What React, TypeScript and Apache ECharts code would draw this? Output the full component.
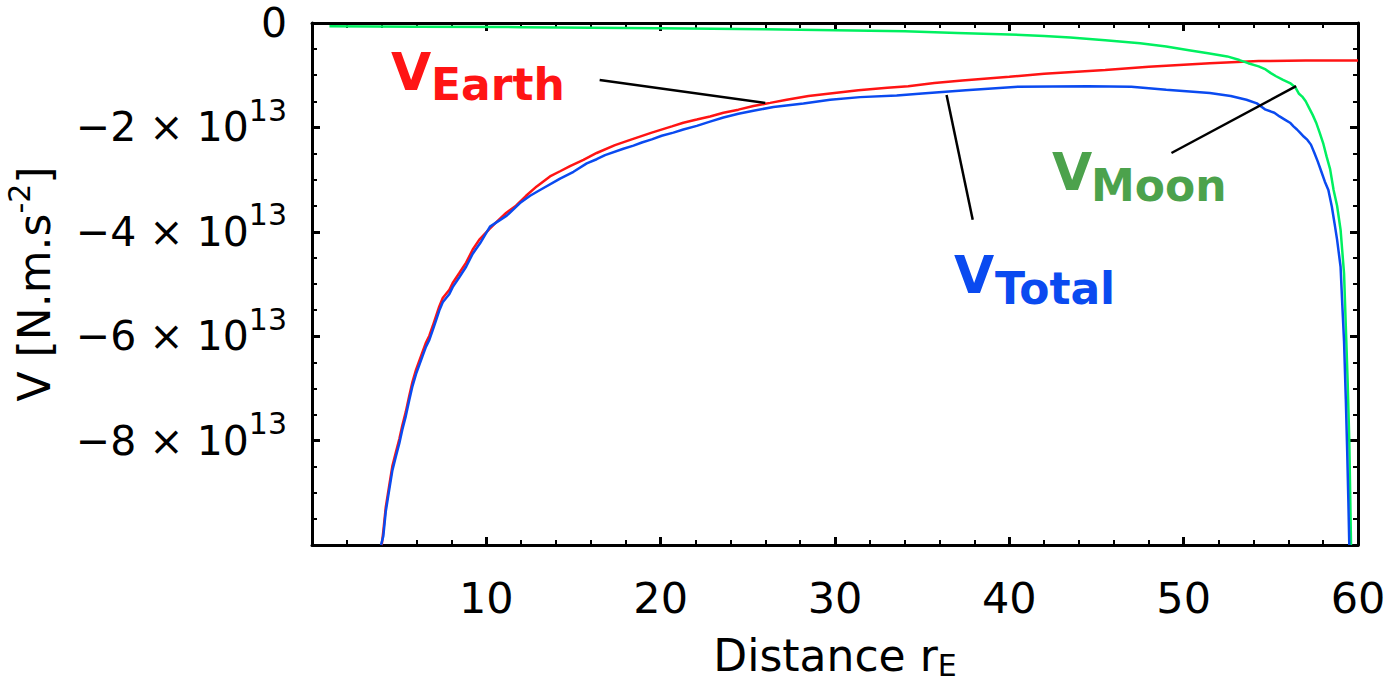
import React, { useEffect, useRef } from 'react';
import * as echarts from 'echarts';

// Values in units of 10^12 N.m.s^-2, x in Earth radii
const EARTH: [number, number][] = [
  [4.0, -100], [4.09, -97.4], [4.23, -92.8], [4.44, -88.4], [4.61, -84.9], [4.8, -82.4], [5.01, -79.7],
  [5.18, -77.1], [5.38, -74.5], [5.58, -71.4], [5.76, -68.8], [5.97, -66.4], [6.33, -63.1], [6.54, -61.2],
  [6.73, -59.9], [6.92, -58.1], [7.11, -56.2], [7.3, -54.3], [7.5, -52.7], [7.88, -51.1], [8.07, -49.8],
  [8.45, -47.9], [8.84, -45.9], [9.22, -43.4], [9.6, -41.5], [10.17, -39.5], [10.56, -38.2], [11.13, -36.4],
  [11.7, -35.0], [12.28, -33.1], [12.89, -31.3], [13.65, -29.4], [14.23, -28.4], [14.8, -27.4], [15.57, -26.2],
  [16.33, -24.9], [17.38, -23.4], [18.34, -22.3], [19.49, -21.0], [20.64, -19.8], [21.3, -19.1], [22.07, -18.5],
  [22.83, -17.9], [23.6, -17.2], [24.46, -16.6], [25.32, -15.9], [26.28, -15.3], [27.23, -14.7], [28.48, -14.0],
  [29.72, -13.5], [31.34, -12.9], [33.0, -12.4], [34.2, -12.1], [35.7, -11.5], [37.3, -11.0], [40.0, -10.3],
  [42.0, -9.7], [45.5, -9.0], [48.0, -8.4], [51.5, -7.7], [54.3, -7.3], [57.0, -7.2], [60.0, -7.2],
];

const MOON: [number, number][] = [
  [1, -0.6], [6, -0.7], [12, -0.8], [20, -1.0], [26, -1.2], [30, -1.4], [34, -1.6], [37, -1.9], [40, -2.2],
  [42, -2.5], [43.5, -2.8], [45.5, -3.3], [47.5, -3.9], [49, -4.5], [50.3, -5.2], [51.4, -5.8], [52.5, -6.4],
  [53.2, -7.1], [53.7, -7.7], [54.3, -8.3], [54.7, -8.9], [55.0, -9.6], [55.3, -10.2], [55.7, -10.9],
  [56.1, -11.5], [56.4, -12.3], [56.6, -13.5], [56.8, -14.1], [57.0, -15.0], [57.2, -16.3], [57.4, -17.6],
  [57.6, -19.1], [57.8, -21.0], [58.0, -23.0], [58.2, -25.6], [58.4, -28.0], [58.6, -32.0], [58.8, -35.0],
  [59.0, -39.6], [59.2, -48], [59.3, -58], [59.4, -68], [59.5, -80], [59.6, -100],
];

const TOTAL: [number, number][] = [
  [3.96, -100], [4.09, -98.3], [4.23, -93.6], [4.44, -89.2], [4.61, -85.7], [4.8, -83.2], [5.01, -80.5],
  [5.18, -77.9], [5.38, -75.3], [5.58, -72.2], [5.76, -69.6], [5.97, -67.2], [6.33, -63.9], [6.54, -62.0],
  [6.73, -60.7], [6.92, -58.9], [7.11, -57.0], [7.3, -55.1], [7.5, -53.5], [7.88, -51.9], [8.07, -50.6],
  [8.45, -48.7], [8.84, -46.7], [9.22, -44.2], [9.64, -42.2], [10.21, -39.0], [11.17, -36.9], [11.93, -34.5],
  [12.51, -33.1], [13.08, -32.0], [14.23, -29.8], [15.0, -28.5], [15.76, -26.9], [16.33, -26.1], [16.81, -25.3],
  [17.86, -24.1], [18.44, -23.5], [18.92, -22.9], [19.49, -22.3], [20.06, -21.6], [20.73, -21.0], [21.3, -20.4],
  [22.07, -19.7], [22.83, -18.9], [23.6, -18.1], [24.46, -17.4], [25.32, -16.8], [26.47, -16.1], [28.19, -15.4],
  [29.72, -14.7], [31.44, -14.2], [33.54, -13.9], [35.0, -13.5], [37.5, -12.9], [40.5, -12.2], [44.5, -12.1],
  [47.0, -12.2], [49.0, -12.8], [51.5, -13.4], [52.7, -14.0], [53.6, -14.7], [54.2, -15.4], [54.7, -16.6],
  [55.2, -17.2], [55.5, -17.9], [55.8, -18.5], [56.1, -19.1], [56.3, -19.8], [56.5, -20.4], [56.7, -21.1],
  [56.9, -21.8], [57.1, -22.4], [57.3, -23.3], [57.5, -24.9], [57.7, -26.6], [57.9, -28.5], [58.1, -30.4],
  [58.3, -32.0], [58.5, -35.2], [58.65, -38.3], [58.8, -41.5], [59.0, -46.7], [59.1, -54], [59.2, -61],
  [59.3, -72], [59.38, -82], [59.45, -92], [59.5, -100],
];

// Leader lines from labels to curves (data coordinates)
const EARTH_LEADER: [number, number][] = [[16.5, -10.9], [26.0, -15.3]];
const TOTAL_LEADER: [number, number][] = [[36.4, -13.8], [37.9, -37.7]];
const MOON_LEADER: [number, number][] = [[49.3, -24.9], [56.45, -12.1]];

// Tick labels
const Y_TICK_LABELS: { v: number; m: string; e: string }[] = [
  { v: 0, m: '0', e: '' },
  { v: -20, m: '\u22122 \u00d7 10', e: '13' },
  { v: -40, m: '\u22124 \u00d7 10', e: '13' },
  { v: -60, m: '\u22126 \u00d7 10', e: '13' },
  { v: -80, m: '\u22128 \u00d7 10', e: '13' },
];

const LABELS = [
  { main: 'V', sub: 'Earth', color: '#ff1414', vx: 391, vy: 72, sx: 431, sy: 84 },
  { main: 'V', sub: 'Total', color: '#0a4af0', vx: 954, vy: 275, sx: 995, sy: 288 },
  { main: 'V', sub: 'Moon', color: '#4ca24c', vx: 1052, vy: 172, sx: 1091, sy: 185 },
];

const FONT = 'DejaVu Sans';
const RED = '#ff1414';
const GREEN_LINE = '#00f060';
const BLUE = '#0a4af0';

function yLabel(value: number): string {
  const t = Y_TICK_LABELS.find((d) => Math.abs(d.v - value) < 1e-6);
  if (!t) return '';
  return t.e ? `{m|${t.m}}{e|${t.e}}` : `{m|${t.m}}`;
}

const tickCommon = {
  axisLine: { show: true, onZero: false, lineStyle: { color: '#000', width: 3 } },
  axisTick: { show: true, inside: true, length: 8, lineStyle: { color: '#000', width: 3 } },
  splitLine: { show: false },
};

export default function App() {
  const ref = useRef<HTMLDivElement>(null);
  useEffect(() => {
    document.body.style.margin = '0';
    const chart = echarts.init(ref.current!, null, { renderer: 'svg' });
    const option: any = {
      animation: false,
      backgroundColor: '#fff',
      grid: { left: 312, top: 23, right: 32, bottom: 136, containLabel: false, outerBoundsMode: 'none' },
      xAxis: [
        {
          type: 'value', min: 0, max: 60, interval: 10, position: 'bottom',
          ...tickCommon,
          minorTick: { show: true, splitNumber: 5, length: 5, lineStyle: { color: '#000', width: 2 } },
          axisLabel: {
            show: true, showMinLabel: false, margin: 31, color: '#000',
            fontFamily: FONT, fontSize: 43,
          },
          name: '{a|Distance r}{s|E}',
          nameLocation: 'middle',
          nameGap: 88,
          nameTextStyle: {
            rich: {
              a: { fontFamily: FONT, fontSize: 44, color: '#000', lineHeight: 44 },
              s: { fontFamily: FONT, fontSize: 30, color: '#000', lineHeight: 24, padding: [20, 0, 0, 0] },
            },
          },
        },
        {
          type: 'value', min: 0, max: 60, interval: 10, position: 'top',
          ...tickCommon,
          minorTick: { show: true, splitNumber: 5, length: 5, lineStyle: { color: '#000', width: 2 } },
          axisLabel: { show: false },
        },
      ],
      yAxis: [
        {
          type: 'value', min: -100, max: 0, interval: 20, position: 'left',
          ...tickCommon,
          minorTick: { show: true, splitNumber: 4, length: 5, lineStyle: { color: '#000', width: 2 } },
          axisLabel: {
            show: true, showMinLabel: false, margin: 25,
            formatter: (v: number) => yLabel(v),
            rich: {
              m: { fontFamily: FONT, fontSize: 41, color: '#000', lineHeight: 50 },
              e: { fontFamily: FONT, fontSize: 30, color: '#000', lineHeight: 20, padding: [0, 0, 34, 0] },
            },
          },
          name: '{a|V [N.m.s}{s|-2}{a|]}',
          nameLocation: 'middle',
          nameRotate: 90,
          nameGap: 236,
          nameTextStyle: {
            rich: {
              a: { fontFamily: FONT, fontSize: 44, color: '#000', lineHeight: 44 },
              s: { fontFamily: FONT, fontSize: 30, color: '#000', lineHeight: 18, padding: [0, 0, 30, 0] },
            },
          },
        },
        {
          type: 'value', min: -100, max: 0, interval: 20, position: 'right',
          ...tickCommon,
          minorTick: { show: true, splitNumber: 4, length: 5, lineStyle: { color: '#000', width: 2 } },
          axisLabel: { show: false },
        },
      ],
      series: [
        {
          type: 'line', name: 'Earth', data: EARTH, xAxisIndex: 0, yAxisIndex: 0,
          showSymbol: false, lineStyle: { color: RED, width: 2.5 }, z: 2,
        },
        {
          type: 'line', name: 'Moon', data: MOON, xAxisIndex: 0, yAxisIndex: 0,
          showSymbol: false, lineStyle: { color: GREEN_LINE, width: 2.5 }, z: 3,
        },
        {
          type: 'line', name: 'Total', data: TOTAL, xAxisIndex: 0, yAxisIndex: 0,
          showSymbol: false, lineStyle: { color: BLUE, width: 2.5 }, z: 4,
        },
        ...[EARTH_LEADER, TOTAL_LEADER, MOON_LEADER].map((d) => ({
          type: 'line', data: d, xAxisIndex: 0, yAxisIndex: 0,
          showSymbol: false, lineStyle: { color: '#000', width: 2.5 }, z: 5,
        })),
      ],
      graphic: LABELS.flatMap((l) => [
        {
          type: 'text', x: l.vx, y: l.vy, z: 10,
          style: {
            text: l.main, fill: l.color, font: `bold 52px "${FONT}"`,
            textAlign: 'left', textVerticalAlign: 'middle',
          },
        },
        {
          type: 'text', x: l.sx, y: l.sy, z: 10,
          style: {
            text: l.sub, fill: l.color, font: `bold 44px "${FONT}"`,
            textAlign: 'left', textVerticalAlign: 'middle',
          },
        },
      ]),
    };
    chart.setOption(option);
    return () => chart.dispose();
  }, []);
  return <div ref={ref} style={{ width: 1390, height: 681 }} />;
}
